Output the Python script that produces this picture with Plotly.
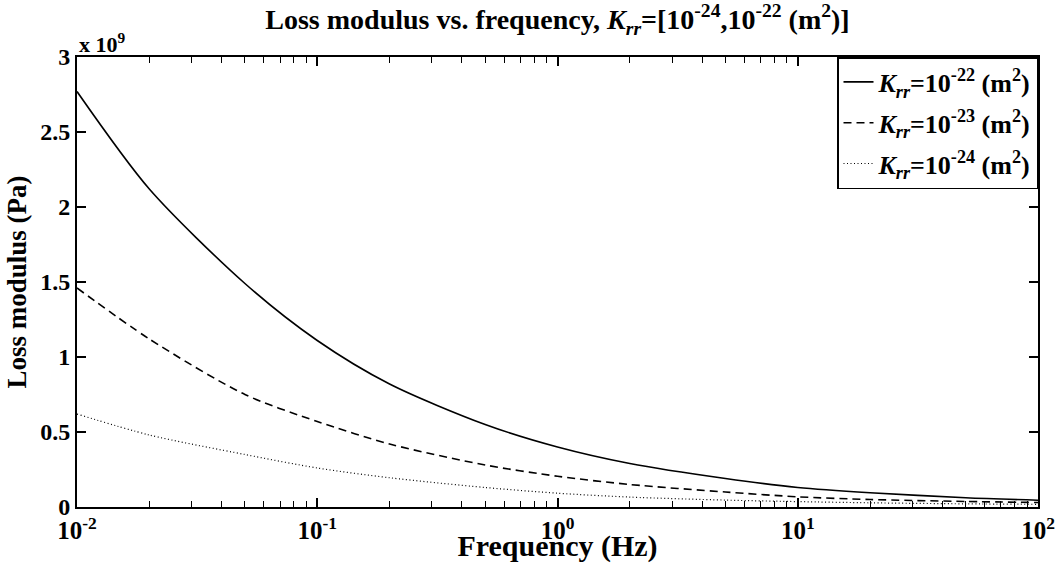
import plotly.graph_objects as go

freq = [0.01, 0.02, 0.05, 0.1, 0.2, 0.5, 1, 2, 5, 10, 20, 50, 100]
loss_22 = [2.77, 2.12, 1.49, 1.11, 0.82, 0.55, 0.40, 0.29, 0.19, 0.13, 0.095, 0.062, 0.045]
loss_23 = [1.46, 1.12, 0.75, 0.57, 0.42, 0.28, 0.205, 0.15, 0.10, 0.068, 0.05, 0.037, 0.03]
loss_24 = [0.62, 0.48, 0.35, 0.26, 0.195, 0.13, 0.092, 0.066, 0.046, 0.036, 0.028, 0.021, 0.018]

names = ["<i>K<sub>rr</sub></i>=10<sup>-22</sup> (m<sup>2</sup>)",
         "<i>K<sub>rr</sub></i>=10<sup>-23</sup> (m<sup>2</sup>)",
         "<i>K<sub>rr</sub></i>=10<sup>-24</sup> (m<sup>2</sup>)"]
x_tickvals = [0.01, 0.1, 1, 10, 100]
x_ticktext = ["10<sup>-2</sup>", "10<sup>-1</sup>", "10<sup>0</sup>", "10<sup>1</sup>", "10<sup>2</sup>"]
x_minorvals = [m * d for d in [0.01, 0.1, 1, 10] for m in range(2, 10)]
y_tickvals = [0, 0.5, 1, 1.5, 2, 2.5, 3]
y_ticktext = ["0", "0.5", "1", "1.5", "2", "2.5", "3"]

fig = go.Figure()
styles = [dict(dash="solid", width=1.6), dict(dash="8px,5px", width=1.6), dict(dash="1px,2.5px", width=1.2)]
for i, (ys, nm, st) in enumerate(zip([loss_22, loss_23, loss_24], names, styles)):
    fig.add_trace(go.Scatter(x=freq, y=ys, mode="lines", name=nm, legendgroup=f"g{i}",
                             line=dict(color="black", shape="spline", smoothing=0.8, **st)))

font_fam = "Liberation Serif, Times New Roman, serif"
fig.update_layout(
    width=1060, height=563,
    margin=dict(l=77, r=22, t=57, b=56, autoexpand=False),
    paper_bgcolor="white", plot_bgcolor="white",
    font=dict(family=font_fam, color="black", size=22, weight="bold"),
    title=dict(text="Loss modulus vs. frequency, <i>K<sub>rr</sub></i>=[10<sup>-24</sup>,10<sup>-22</sup> (m<sup>2</sup>)]",
               x=0.5, xref="paper", xanchor="center", y=1 - 19 / 563, yanchor="middle",
               font=dict(size=28, family=font_fam, weight="bold")),
    xaxis=dict(type="log", range=[-2, 2], tickvals=x_tickvals, ticktext=x_ticktext,
               automargin=False,
               ticks="inside", ticklen=9, tickwidth=1.5, tickcolor="black",
               showline=True, linecolor="black", linewidth=2, mirror="ticks",
               showgrid=False, zeroline=False,
               tickfont=dict(size=25, family=font_fam, weight="bold"),
               minor=dict(tickvals=x_minorvals, ticks="inside", ticklen=6, tickwidth=1.3,
                          tickcolor="black", showgrid=False),
               title=dict(text="Frequency (Hz)", standoff=3,
                          font=dict(size=30, family=font_fam, weight="bold"))),
    yaxis=dict(range=[0, 3], tickvals=y_tickvals, ticktext=y_ticktext,
               automargin=False,
               ticks="inside", ticklen=9, tickwidth=1.5, tickcolor="black",
               showline=True, linecolor="black", linewidth=2, mirror="ticks",
               showgrid=False, zeroline=False,
               tickfont=dict(size=24, family=font_fam, weight="bold"),
               title=dict(text="Loss modulus (Pa)", standoff=6,
                          font=dict(size=27, family=font_fam, weight="bold"))),
    legend=dict(x=1, xanchor="right", y=1, yanchor="top",
                bgcolor="white", bordercolor="black", borderwidth=1.5,
                font=dict(size=26, family=font_fam, weight="bold"),
                itemwidth=30, tracegroupgap=4),
    showlegend=True,
)
fig.add_annotation(text="x 10<sup>9</sup>", xref="paper", yref="paper", x=0, y=1,
                   xanchor="left", yanchor="bottom", yshift=-2, showarrow=False,
                   font=dict(size=22, family=font_fam, weight="bold"))
fig.write_html("out.html")
